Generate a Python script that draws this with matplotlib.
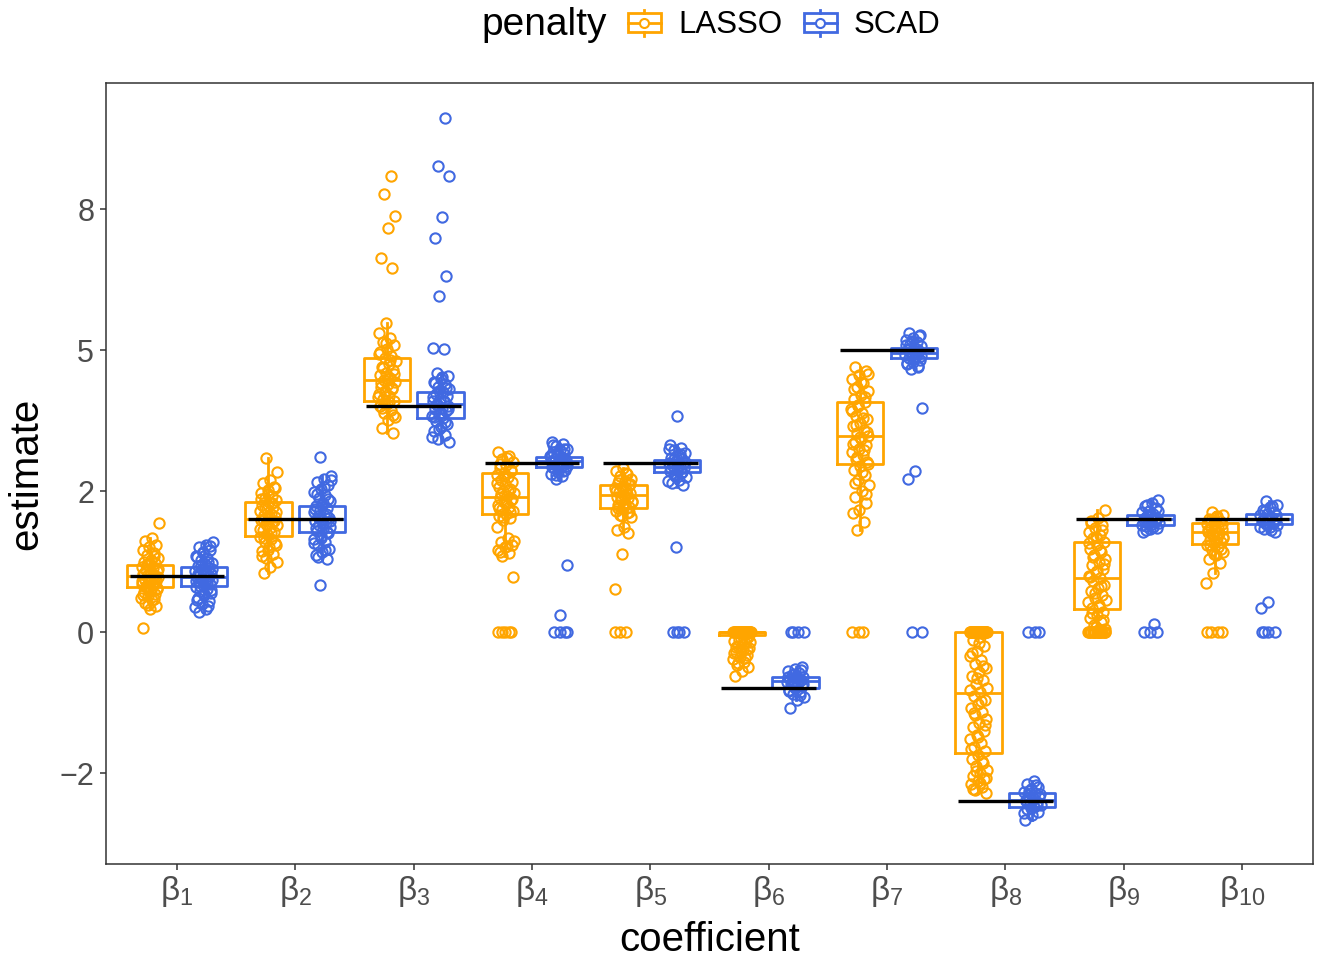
import numpy as np
import matplotlib
matplotlib.use("Agg")
import matplotlib.pyplot as plt
from matplotlib.lines import Line2D
from matplotlib.patches import Rectangle
from matplotlib.legend_handler import HandlerBase

plt.rcParams['font.family'] = ['Liberation Sans', 'DejaVu Sans']
plt.rcParams['mathtext.fontset'] = 'custom'
plt.rcParams['mathtext.rm'] = 'Liberation Sans'
plt.rcParams['mathtext.it'] = 'Liberation Sans:italic'
plt.rcParams['mathtext.bf'] = 'Liberation Sans:bold'

# ---------------- data ----------------
coefficients = ['β$_{1}$', 'β$_{2}$', 'β$_{3}$', 'β$_{4}$', 'β$_{5}$',
                'β$_{6}$', 'β$_{7}$', 'β$_{8}$', 'β$_{9}$', 'β$_{10}$']
penalties = ['LASSO', 'SCAD']
true_values = [1, 2, 4, 3, 3, -1, 5, -3, 2, 2]

y_ticks = [-2.5, 0, 2.5, 5, 7.5]
y_tick_labels = ['\u22122', '0', '2', '5', '8']

# box statistics
lasso_q1 = [0.79, 1.70, 4.10, 2.10, 2.20, -0.05, 2.98, -2.15, 0.41, 1.56]
lasso_med = [1.00, 2.00, 4.47, 2.40, 2.43, 0.00, 3.48, -1.08, 0.95, 1.77]
lasso_q3 = [1.18, 2.31, 4.86, 2.82, 2.60, 0.00, 4.07, 0.00, 1.59, 1.94]
lasso_lo = [0.41, 1.05, 3.52, 1.35, 1.76, -0.08, 1.81, -2.86, 0.00, 1.05]
lasso_hi = [1.67, 3.08, 5.47, 3.20, 2.90, 0.00, 4.70, 0.00, 2.16, 2.13]

scad_q1 = [0.82, 1.78, 3.79, 2.93, 2.84, -1.00, 4.86, -3.10, 1.90, 1.91]
scad_med = [0.98, 2.00, 4.04, 3.03, 2.93, -0.87, 4.94, -2.98, 2.00, 2.00]
scad_q3 = [1.15, 2.23, 4.26, 3.11, 3.05, -0.79, 5.04, -2.86, 2.07, 2.09]
scad_lo = [0.36, 1.30, 3.37, 2.70, 2.58, -1.21, 4.67, -3.33, 1.78, 1.78]
scad_hi = [1.60, 2.76, 4.59, 3.37, 3.32, -0.62, 5.30, -2.65, 2.34, 2.33]

# number of simulation runs with an estimate of exactly zero
lasso_zero_counts = [0, 0, 0, 5, 3, 28, 3, 30, 18, 4]
scad_zero_counts = [0, 0, 0, 4, 4, 4, 2, 3, 3, 4]

# non-zero estimates
lasso_b1 = [1.93, 1.67, 1.62, 1.55, 1.50, 1.45, 1.40, 1.36, 1.32, 1.28, 1.25, 1.22,
            1.19, 1.16, 1.13, 1.10, 1.08, 1.05, 1.03, 1.01, 0.99, 0.97, 0.95, 0.93,
            0.90, 0.88, 0.85, 0.83, 0.80, 0.77, 0.74, 0.71, 0.68, 0.64, 0.60, 0.56,
            0.51, 0.46, 0.41, 0.07, 1.34, 1.21, 1.12, 1.06, 1.02, 0.98, 0.94, 0.91,
            0.87, 0.82, 0.78, 0.72, 0.66, 0.58, 0.48]
lasso_b2 = [3.08, 2.84, 2.70, 2.64, 2.58, 2.52, 2.47, 2.42, 2.38, 2.34, 2.30, 2.26,
            2.22, 2.18, 2.14, 2.10, 2.07, 2.04, 2.01, 1.98, 1.95, 1.92, 1.89, 1.85,
            1.81, 1.77, 1.73, 1.69, 1.65, 1.60, 1.55, 1.50, 1.44, 1.38, 1.32, 1.25,
            1.16, 1.05, 2.55, 2.44, 2.36, 2.28, 2.20, 2.12, 2.06, 2.00, 1.96, 1.90,
            1.83, 1.75, 1.67, 1.58, 1.46, 1.35]
lasso_b3 = [8.09, 7.76, 7.38, 7.17, 6.63, 6.46, 5.47, 5.30, 5.22, 5.15, 5.08, 5.02,
            4.96, 4.90, 4.85, 4.80, 4.75, 4.70, 4.65, 4.60, 4.55, 4.51, 4.47, 4.43,
            4.39, 4.35, 4.31, 4.27, 4.22, 4.18, 4.14, 4.10, 4.05, 4.00, 3.94, 3.88,
            3.82, 3.76, 3.62, 3.52, 5.12, 4.93, 4.82, 4.68, 4.58, 4.49, 4.41, 4.33,
            4.24, 4.16, 4.08, 3.97, 3.85]
lasso_b4 = [3.20, 3.12, 3.06, 3.01, 2.96, 2.91, 2.86, 2.82, 2.78, 2.74, 2.70, 2.66,
            2.62, 2.58, 2.54, 2.50, 2.46, 2.42, 2.38, 2.34, 2.30, 2.26, 2.22, 2.18,
            2.14, 2.10, 2.06, 2.02, 1.98, 1.87, 1.67, 1.60, 1.55, 1.50, 1.45, 1.40,
            1.35, 0.98, 3.08, 2.98, 2.88, 2.76, 2.64, 2.52, 2.44, 2.36, 2.28, 2.20,
            2.12, 2.04, 1.62, 1.52, 1.42]
lasso_b5 = [2.90, 2.85, 2.80, 2.76, 2.72, 2.68, 2.64, 2.61, 2.58, 2.55, 2.52, 2.49,
            2.46, 2.43, 2.40, 2.37, 2.34, 2.31, 2.28, 2.25, 2.22, 2.19, 2.15, 2.11,
            2.07, 2.04, 1.86, 1.80, 1.76, 1.39, 0.76, 2.82, 2.70, 2.62, 2.56, 2.50,
            2.44, 2.38, 2.32, 2.26, 2.20, 2.13, 2.06]
lasso_b6 = [-0.08, -0.12, -0.16, -0.20, -0.24, -0.28, -0.32, -0.36, -0.40, -0.44,
            -0.48, -0.53, -0.58, -0.62, -0.70, -0.78, -0.10, -0.14, -0.18, -0.22,
            -0.26, -0.30, -0.34, -0.38, -0.46, -0.55]
lasso_b7 = [4.70, 4.62, 4.55, 4.48, 4.41, 4.34, 4.27, 4.20, 4.13, 4.07, 4.01, 3.95,
            3.89, 3.83, 3.77, 3.71, 3.65, 3.59, 3.53, 3.48, 3.43, 3.37, 3.31, 3.25,
            3.19, 3.13, 3.07, 3.01, 2.95, 2.87, 2.79, 2.70, 2.60, 2.50, 2.40, 2.28,
            2.17, 2.11, 1.95, 1.81, 4.58, 4.44, 4.30, 4.16, 4.03, 3.91, 3.79, 3.67,
            3.55, 3.45, 3.34, 3.22, 3.10, 2.98, 2.83, 2.65, 2.45]
lasso_b8 = [-0.08, -0.15, -0.25, -0.33, -0.42, -0.50, -0.57, -0.64, -0.71, -0.78,
            -0.85, -0.92, -0.99, -1.06, -1.13, -1.20, -1.27, -1.34, -1.41, -1.48,
            -1.55, -1.62, -1.69, -1.76, -1.83, -1.90, -1.97, -2.04, -2.11, -2.18,
            -2.25, -2.32, -2.38, -2.44, -2.50, -2.55, -2.60, -2.65, -2.70, -2.75,
            -2.80, -2.86, -0.20, -0.38, -0.61, -0.82, -1.02, -1.23, -1.44, -1.65,
            -1.86, -2.07, -2.28, -2.47, -2.58, -2.68, -2.78]
lasso_b9 = [2.16, 2.02, 1.96, 1.90, 1.84, 1.78, 1.72, 1.66, 1.60, 1.54, 1.48, 1.42,
            1.36, 1.30, 1.24, 1.18, 1.12, 1.06, 1.00, 0.95, 0.90, 0.84, 0.78, 0.72,
            0.66, 0.60, 0.54, 0.48, 0.42, 0.36, 0.30, 0.24, 0.18, 0.12, 0.06, 0.03,
            1.93, 1.81, 1.69, 1.57, 1.45, 1.33, 1.21, 1.09, 0.97, 0.81, 0.69, 0.57,
            0.45, 0.33, 0.21, 0.09]
lasso_b10 = [2.13, 2.08, 2.04, 2.00, 1.97, 1.94, 1.91, 1.88, 1.85, 1.82, 1.79, 1.77,
             1.75, 1.72, 1.69, 1.66, 1.63, 1.60, 1.57, 1.54, 1.50, 1.46, 1.41, 1.36,
             1.30, 1.22, 1.05, 0.87, 2.06, 1.99, 1.92, 1.86, 1.80, 1.76, 1.73, 1.67,
             1.61, 1.55, 1.48, 1.38]

scad_b1 = [1.60, 1.55, 1.50, 1.45, 1.40, 1.35, 1.31, 1.27, 1.23, 1.20, 1.17, 1.14,
           1.11, 1.08, 1.06, 1.04, 1.02, 1.00, 0.98, 0.96, 0.94, 0.92, 0.90, 0.88,
           0.86, 0.83, 0.80, 0.77, 0.73, 0.69, 0.65, 0.60, 0.55, 0.50, 0.45, 0.40,
           0.36, 1.52, 1.42, 1.33, 1.25, 1.18, 1.12, 1.07, 1.03, 0.99, 0.95, 0.91,
           0.87, 0.82, 0.75, 0.67, 0.57, 0.47]
scad_b2 = [3.10, 2.76, 2.72, 2.66, 2.60, 2.54, 2.48, 2.43, 2.38, 2.33, 2.28, 2.24,
           2.20, 2.16, 2.12, 2.08, 2.05, 2.02, 1.99, 1.96, 1.93, 1.90, 1.87, 1.83,
           1.79, 1.75, 1.70, 1.65, 1.60, 1.54, 1.48, 1.42, 1.36, 1.30, 0.83, 2.69,
           2.57, 2.45, 2.35, 2.26, 2.18, 2.10, 2.03, 1.97, 1.91, 1.85, 1.77, 1.67,
           1.57, 1.45, 1.33]
scad_b3 = [9.12, 8.27, 8.09, 7.36, 6.99, 6.32, 5.96, 5.03, 5.01, 4.59, 4.54, 4.49,
           4.44, 4.39, 4.34, 4.30, 4.26, 4.22, 4.18, 4.14, 4.10, 4.07, 4.04, 4.01,
           3.98, 3.95, 3.91, 3.87, 3.83, 3.79, 3.74, 3.69, 3.63, 3.57, 3.50, 3.43,
           3.37, 4.52, 4.42, 4.32, 4.24, 4.16, 4.09, 4.02, 3.96, 3.89, 3.81, 3.72,
           3.60, 3.46]
scad_b4 = [3.37, 3.33, 3.29, 3.25, 3.22, 3.19, 3.16, 3.13, 3.11, 3.09, 3.07, 3.05,
           3.03, 3.01, 2.99, 2.97, 2.95, 2.93, 2.90, 2.87, 2.84, 2.80, 2.76, 2.72,
           1.18, 0.30, 3.31, 3.24, 3.17, 3.12, 3.08, 3.04, 3.00, 2.96, 2.92, 2.86,
           2.78]
scad_b5 = [3.83, 3.32, 3.27, 3.22, 3.17, 3.13, 3.09, 3.06, 3.03, 3.00, 2.97, 2.94,
           2.91, 2.88, 2.85, 2.82, 2.78, 2.74, 2.70, 2.65, 2.60, 1.51, 3.24, 3.15,
           3.07, 3.01, 2.95, 2.89, 2.83, 2.76, 2.68]
scad_b6 = [-0.62, -0.66, -0.70, -0.73, -0.76, -0.79, -0.81, -0.83, -0.85, -0.87,
           -0.89, -0.91, -0.93, -0.96, -0.99, -1.02, -1.06, -1.10, -1.15, -1.21,
           -1.35, -0.68, -0.75, -0.80, -0.84, -0.88, -0.92, -0.97, -1.04, -1.12]
scad_b7 = [5.30, 5.26, 5.22, 5.18, 5.14, 5.10, 5.07, 5.04, 5.01, 4.98, 4.95, 4.92,
           4.89, 4.86, 4.83, 4.79, 4.75, 4.71, 4.67, 3.98, 2.86, 2.71, 5.24, 5.16,
           5.08, 5.02, 4.96, 4.90, 4.84, 4.77, 4.69]
scad_b8 = [-2.65, -2.70, -2.75, -2.79, -2.83, -2.86, -2.89, -2.92, -2.95, -2.98,
           -3.01, -3.04, -3.07, -3.10, -3.14, -3.19, -3.25, -3.33, -2.72, -2.81,
           -2.88, -2.94, -3.00, -3.06, -3.12, -3.21]
scad_b9 = [2.34, 2.28, 2.23, 2.19, 2.15, 2.12, 2.09, 2.06, 2.03, 2.01, 1.99, 1.97,
           1.95, 1.93, 1.91, 1.88, 1.85, 1.82, 1.78, 0.15, 2.25, 2.14, 2.07, 2.02,
           1.98, 1.94, 1.90, 1.86, 1.80]
scad_b10 = [2.33, 2.26, 2.21, 2.17, 2.13, 2.10, 2.07, 2.04, 2.02, 2.00, 1.98, 1.96,
            1.94, 1.92, 1.89, 1.86, 1.82, 1.78, 0.54, 0.42, 2.23, 2.15, 2.08, 2.03,
            1.99, 1.95, 1.91, 1.87, 1.80]

lasso_points = [lasso_b1, lasso_b2, lasso_b3, lasso_b4, lasso_b5,
                lasso_b6, lasso_b7, lasso_b8, lasso_b9, lasso_b10]
scad_points = [scad_b1, scad_b2, scad_b3, scad_b4, scad_b5,
               scad_b6, scad_b7, scad_b8, scad_b9, scad_b10]

# ---------------- style ----------------
ORANGE = '#FFA500'
BLUE = '#4169E1'
colors = {'LASSO': ORANGE, 'SCAD': BLUE}
DODGE = 0.227
BOX_W = 0.39
JITTER = 0.075
LW = 2.0

fig = plt.figure(figsize=(13.19, 9.6), dpi=100)
ax = fig.add_axes([106 / 1319, 1 - 864 / 960, (1313 - 106) / 1319, (864 - 83) / 960])

groups = {
    'LASSO': (lasso_q1, lasso_med, lasso_q3, lasso_lo, lasso_hi, lasso_points, lasso_zero_counts, -DODGE),
    'SCAD': (scad_q1, scad_med, scad_q3, scad_lo, scad_hi, scad_points, scad_zero_counts, DODGE),
}

golden = 0.6180339887
for pen, (q1, med, q3, lo, hi, pts, zeros, off) in groups.items():
    col = colors[pen]
    stats = []
    for i in range(len(coefficients)):
        stats.append(dict(q1=q1[i], med=med[i], q3=q3[i], whislo=lo[i], whishi=hi[i], fliers=[]))
    positions = [i + 1 + off for i in range(len(coefficients))]
    ax.bxp(stats, positions=positions, widths=BOX_W, showfliers=False, showcaps=False,
           boxprops=dict(color=col, linewidth=LW),
           medianprops=dict(color=col, linewidth=LW),
           whiskerprops=dict(color=col, linewidth=LW),
           manage_ticks=False, zorder=2)
    for i in range(len(coefficients)):
        vals = list(pts[i]) + [0.0] * zeros[i]
        n = len(vals)
        k = np.arange(n)
        jit = (((k + 1) * golden + 0.37 * (i + 1)) % 1.0 - 0.5) * 2 * JITTER
        ax.plot(positions[i] + jit, vals, linestyle='none', marker='o', markersize=7.4,
                markerfacecolor='none', markeredgecolor=col, markeredgewidth=1.5, zorder=3)

# true coefficient values
xs = np.arange(1, len(coefficients) + 1)
ax.hlines(true_values, xs - 0.40, xs + 0.40, color='black', linewidth=2.4, zorder=4)

ax.set_xlim(0.4, 10.6)
ax.set_ylim(-4.113, 9.734)
ax.set_xticks(xs)
ax.set_xticklabels(coefficients)
ax.set_yticks(y_ticks)
ax.set_yticklabels(y_tick_labels)
ax.tick_params(axis='both', colors='#333333', length=4.5, width=1.1,
               labelcolor='#4D4D4D', pad=4)
ax.tick_params(axis='y', labelsize=22)
ax.tick_params(axis='x', labelsize=24, pad=3)
for s in ax.spines.values():
    s.set_color('#333333')
    s.set_linewidth(1.1)
ax.set_xlabel('coefficient', fontsize=29, labelpad=8)
ax.set_ylabel('estimate', fontsize=29, labelpad=10)


# legend with boxplot-style keys
class BoxKey(HandlerBase):
    def create_artists(self, legend, orig_handle, xdescent, ydescent, width, height,
                       fontsize, trans):
        col = orig_handle.get_color()
        x0 = -xdescent
        y0 = -ydescent
        bh = height * 0.75
        by = y0 + (height - bh) / 2
        rect = Rectangle((x0, by), width, bh, facecolor='white', edgecolor=col,
                         linewidth=LW, transform=trans)
        cx = x0 + width / 2
        cy = y0 + height / 2
        med = Line2D([x0, x0 + width], [cy, cy], color=col, linewidth=LW, transform=trans)
        w1 = Line2D([cx, cx], [y0, by], color=col, linewidth=LW, transform=trans)
        w2 = Line2D([cx, cx], [by + bh, y0 + height], color=col, linewidth=LW, transform=trans)
        pt = Line2D([cx], [cy], marker='o', markersize=6.5, markerfacecolor='white',
                    markeredgecolor=col, markeredgewidth=1.5, linestyle='none', transform=trans)
        return [rect, med, w1, w2, pt]


handles = [Line2D([], [], color=colors[p]) for p in penalties]
leg = fig.legend(handles, penalties, handler_map={Line2D: BoxKey()}, ncol=2,
                 loc='center left', bbox_to_anchor=(628 / 1319, 1 - 25 / 960),
                 frameon=False, fontsize=22.5, handlelength=1.05, handleheight=0.9,
                 handletextpad=0.55, columnspacing=0.7, borderpad=0, borderaxespad=0)
fig.text(607 / 1319, 1 - 25 / 960, 'penalty', fontsize=28, ha='right', va='center')

fig.savefig('out.png', dpi=100, facecolor='white')
